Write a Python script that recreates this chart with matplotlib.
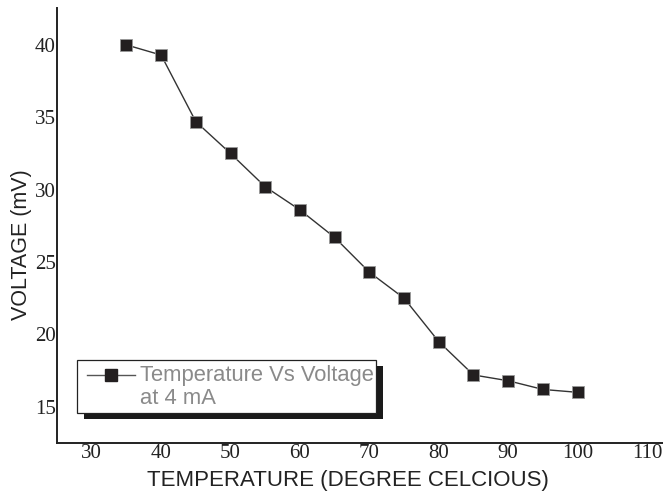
import matplotlib
matplotlib.use("Agg")
import matplotlib.pyplot as plt
from matplotlib.patches import Rectangle
from matplotlib.lines import Line2D

# data
temperature = [35, 40, 45, 50, 55, 60, 65, 70, 75, 80, 85, 90, 95, 100]
voltage = [40.0, 39.3, 34.7, 32.5, 30.2, 28.6, 26.7, 24.3, 22.5, 19.5, 17.2, 16.8, 16.2, 16.0]
x_ticks = [30, 40, 50, 60, 70, 80, 90, 100, 110]
y_ticks = [15, 20, 25, 30, 35, 40]
legend_label = "Temperature Vs Voltage\nat 4 mA"

W, H = 663, 498
fig = plt.figure(figsize=(W / 100, H / 100), dpi=100)
ax = fig.add_axes([57 / W, 55 / H, 606 / W, 435 / H])

mark = "#231f20"
ax.plot(temperature, voltage, color="#333333", linewidth=1.0,
        marker="s", markersize=8, markerfacecolor=mark,
        markeredgecolor="#999999", markeredgewidth=0.6)

ax.set_xlim(25, 112.3)
ax.set_ylim(12.5, 42.55)
ax.set_xticks(x_ticks)
ax.set_yticks(y_ticks)
ax.tick_params(length=0, pad=1, labelsize=15, colors="#222222")
for lab in ax.get_xticklabels() + ax.get_yticklabels():
    lab.set_family("Liberation Serif")

for side in ("top", "right"):
    ax.spines[side].set_visible(False)
for side in ("left", "bottom"):
    ax.spines[side].set_linewidth(1.4)
    ax.spines[side].set_color("#222222")

ax.set_xlabel("TEMPERATURE (DEGREE CELCIOUS)", family="Liberation Sans",
              fontsize=16, color="#222222")
ax.set_ylabel("VOLTAGE (mV)", family="Liberation Sans",
              fontsize=15.5, color="#222222")
# labels sit slightly off-centre in the original
ax.xaxis.set_label_coords(0.48, -0.062)
ax.yaxis.set_label_coords(-0.042, 0.457)

# legend box with a solid offset shadow, drawn in pixel positions
def px(x, y):
    return x / W, 1 - y / H

lx0, ly0, lx1, ly1 = 77, 360, 376, 413
sx, sy = px(lx0 + 7, ly1 + 6)
fig.add_artist(Rectangle((sx, sy), (lx1 - lx0) / W, (ly1 - ly0) / H,
                         transform=fig.transFigure, facecolor="#1a1a1a",
                         edgecolor="none", zorder=5))
bx, by = px(lx0, ly1)
fig.add_artist(Rectangle((bx, by), (lx1 - lx0) / W, (ly1 - ly0) / H,
                         transform=fig.transFigure, facecolor="white",
                         edgecolor="#222222", linewidth=0.9, zorder=6))
hx0, hy = px(87, 375)
hx1, _ = px(135, 375)
fig.add_artist(Line2D([hx0, hx1], [hy, hy], transform=fig.transFigure,
                      color="#555555", linewidth=1.0, zorder=7))
mx, _ = px(111, 375)
fig.add_artist(Line2D([mx], [hy], transform=fig.transFigure, marker="s",
                      markersize=8, markerfacecolor=mark,
                      markeredgecolor=mark, linestyle="none", zorder=8))
tx, ty = px(140, 387)
fig.text(tx, ty, legend_label, family="Liberation Sans", fontsize=15.8,
         color="#8a8a8a", va="center", ha="left", linespacing=1.1, zorder=8)

fig.savefig("out.png", dpi=100)
